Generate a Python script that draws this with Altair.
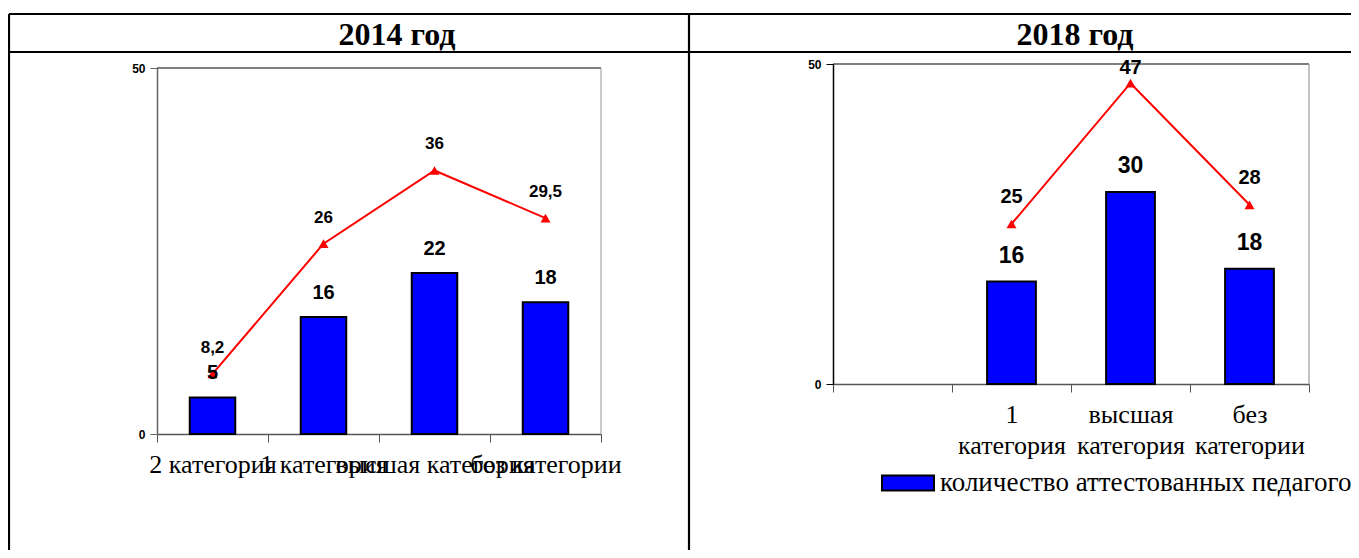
import altair as alt
import pandas as pd

# ---------------- data ----------------
years = ["2014 год", "2018 год"]

cats14 = ["2 категория", "1 категория", "высшая категория", "без категории"]
bars14 = [5, 16, 22, 18]
line14 = [8.2, 26, 36, 29.5]

axis18 = ["", "1 категория", "высшая категория", "без категории"]
cats18 = ["1 категория", "высшая категория", "без категории"]
bars18 = [16, 30, 18]
line18 = [25, 47, 28]

series_name = "количество аттестованных педагогов"
y_ticks = [0, 50]
y_max = 50


def fmt(v):
    return f"{v:g}".replace(".", ",")


df14 = pd.DataFrame({
    "cat": cats14, "bar": bars14, "line": line14,
    "bl": [fmt(v) for v in bars14], "ll": [fmt(v) for v in line14],
})
df18 = pd.DataFrame({
    "cat": cats18, "bar": bars18, "line": line18,
    "bl": [fmt(v) for v in bars18], "ll": [fmt(v) for v in line18],
    "series": [series_name] * len(cats18),
})

# ---------------- layout ----------------
W, H = 1343, 542
BLUE, RED = "#0000FF", "#FF0000"
SANS, SERIF = "Liberation Sans", "Liberation Serif"
one = pd.DataFrame({"k": [0]})


def panel(df, domain, xr, yr, bar_fs, line_fs, bar_dy, line_dy, top_dy,
          axis_color, multiline, legend):
    xaxis = alt.Axis(
        orient="bottom", offset=yr[0] - H, title=None, labelAngle=0,
        tickBand="extent", labelOverlap=False, labelLimit=1000,
        labelFont=SERIF, labelFontSize=26, labelColor="black",
        labelPadding=9, tickSize=8, tickColor="#555", domainColor="#555",
        domainWidth=1.5, labelLineHeight=31,
        **({"labelExpr": "split(datum.label, ' ')"} if multiline else {}),
    )
    yaxis = alt.Axis(
        orient="left", offset=-xr[0], title=None, values=y_ticks, grid=False,
        labelFont=SANS, labelFontWeight="bold", labelFontSize=12,
        labelColor="black", tickSize=7, labelPadding=5,
        tickColor=axis_color, domainColor=axis_color, domainWidth=1.5,
    )
    xs = alt.Scale(domain=domain, range=xr, paddingInner=0, paddingOuter=0)
    ys = alt.Scale(domain=[0, y_max], range=yr, nice=False)

    def X():
        return alt.X("cat:N", scale=xs, axis=xaxis, sort=domain)

    def Y(f):
        return alt.Y(f"{f}:Q", scale=ys, axis=yaxis)

    base = alt.Chart(df)
    if legend:
        color = alt.Color(
            "series:N",
            scale=alt.Scale(domain=[series_name], range=[BLUE]),
            legend=alt.Legend(
                orient="none", legendX=873, legendY=448, title=None,
                symbolType="M-1,-0.29L1,-0.29L1,0.29L-1,0.29Z",
                symbolSize=2704, symbolStrokeColor="black",
                symbolStrokeWidth=2, symbolOpacity=1,
                labelFont=SERIF, labelFontSize=27, labelColor="black",
                labelLimit=2000, labelOffset=5, padding=0,
            ),
        )
    else:
        color = alt.value(BLUE)

    bars = base.mark_bar(
        width=alt.RelativeBandSize(0.41), stroke="black", strokeWidth=2
    ).encode(x=X(), y=Y("bar"), color=color)
    line = base.mark_line(color=RED, strokeWidth=2).encode(x=X(), y=Y("line"))
    pts = base.mark_point(
        shape="triangle-up", filled=True, size=100, color=RED, opacity=1
    ).encode(x=X(), y=Y("line"))
    bar_txt = base.mark_text(
        font=SANS, fontWeight="bold", fontSize=bar_fs, dy=bar_dy,
        baseline="middle", color="black"
    ).encode(x=X(), y=Y("bar"), text="bl:N")
    line_txt = base.transform_filter("datum.line < 45").mark_text(
        font=SANS, fontWeight="bold", fontSize=line_fs, dy=line_dy,
        baseline="middle", color="black"
    ).encode(x=X(), y=Y("line"), text="ll:N")
    line_txt_top = base.transform_filter("datum.line >= 45").mark_text(
        font=SANS, fontWeight="bold", fontSize=line_fs, dy=top_dy,
        baseline="middle", color="black"
    ).encode(x=X(), y=Y("line"), text="ll:N")
    return alt.layer(bars, line, pts, bar_txt, line_txt, line_txt_top)


def hrule(x1, x2, y, color="black", w=2.2):
    return alt.Chart(one).mark_rule(color=color, strokeWidth=w).encode(
        x=alt.value(x1), x2=alt.value(x2), y=alt.value(y))


def vrule(x, y1, y2, color="black", w=2.2):
    return alt.Chart(one).mark_rule(color=color, strokeWidth=w).encode(
        x=alt.value(x), y=alt.value(y1), y2=alt.value(y2))


def title(text, x, y):
    return alt.Chart(pd.DataFrame({"t": [text]})).mark_text(
        font=SERIF, fontWeight="bold", fontSize=32, color="black",
        baseline="middle", align="center"
    ).encode(text="t:N", x=alt.value(x), y=alt.value(y))


X1, Y1 = [149, 593], [426, 60]
X2, Y2 = [825, 1301], [376, 56]

decor = [
    hrule(1, W, 6), hrule(1, W, 44), vrule(1, 6, H), vrule(681, 6, H),
    title(years[0], 389, 27), title(years[1], 1067, 27),
    hrule(X1[0], X1[1], Y1[1], "#555", 1.5), vrule(X1[1], Y1[1], Y1[0], "#aaa", 1.2),
    hrule(X2[0], X2[1], Y2[1], "black", 1.2), vrule(X2[1], Y2[1], Y2[0], "#999", 1.2),
]

p1 = panel(df14, cats14, X1, Y1, 20, 17, -24, -26, -14, "#666", False, False)
p2 = panel(df18, axis18, X2, Y2, 23, 20, -26, -27, -15, "black", True, True)

chart = alt.layer(*decor, p1, p2).resolve_scale(
    x="independent", y="independent"
).properties(
    width=W, height=H,
    autosize=alt.AutoSizeParams(type="none"),
    padding=0, background="white",
).configure_view(stroke=None)

chart.save("out.html", embed_options={"renderer": "svg", "actions": False})
